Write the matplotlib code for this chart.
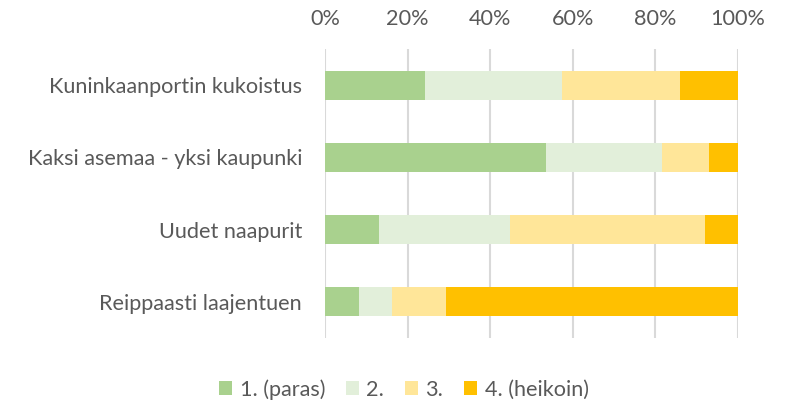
import matplotlib.pyplot as plt
from matplotlib.ticker import PercentFormatter

plt.rcParams['font.family'] = ['Lato', 'DejaVu Sans']

# Data (share of rankings, %)
categories = ['Kuninkaanportin kukoistus', 'Kaksi asemaa - yksi kaupunki',
              'Uudet naapurit', 'Reippaasti laajentuen']
rank1 = [24.3, 53.6, 13.1, 8.3]
rank2 = [33.1, 28.1, 31.8, 7.9]
rank3 = [28.6, 11.3, 47.0, 13.2]
rank4 = [14.0, 7.0, 8.1, 70.6]
series_labels = ['1. (paras)', '2.', '3.', '4. (heikoin)']
colors = ['#A9D18E', '#E2EFDA', '#FFE699', '#FFC000']

text_color = '#595959'
fs = 15.6

fig = plt.figure(figsize=(7.95, 4.04), dpi=100)
ax = fig.add_axes([0.4088, 0.1634, 0.5195, 0.7153])

y = list(range(len(categories)))
left = [0.0] * len(categories)
for vals, lab, col in zip([rank1, rank2, rank3, rank4], series_labels, colors):
    ax.barh(y, vals, left=left, height=0.4, color=col, label=lab, zorder=3)
    left = [a + b for a, b in zip(left, vals)]

ax.set_xlim(0, 100)
ax.set_ylim(len(categories) - 0.5, -0.5)
ax.set_xticks([0, 20, 40, 60, 80, 100])
ax.xaxis.set_major_formatter(PercentFormatter(decimals=0))
ax.xaxis.tick_top()
ax.set_yticks(y)
ax.set_yticklabels(categories)

ax.tick_params(axis='both', length=0, labelsize=fs, colors=text_color)
ax.tick_params(axis='x', pad=14.5)
ax.tick_params(axis='y', pad=16.5)

ax.grid(axis='x', color='#D9D9D9', linewidth=1.5, zorder=0)
for s in ax.spines.values():
    s.set_visible(False)

fig.legend(loc='center', bbox_to_anchor=(0.508, 0.036), ncol=4, frameon=False,
           fontsize=fs, labelcolor=text_color,
           handlelength=0.6, handleheight=0.6,
           handletextpad=0.35, columnspacing=0.95)

fig.savefig('out.png', dpi=100)
